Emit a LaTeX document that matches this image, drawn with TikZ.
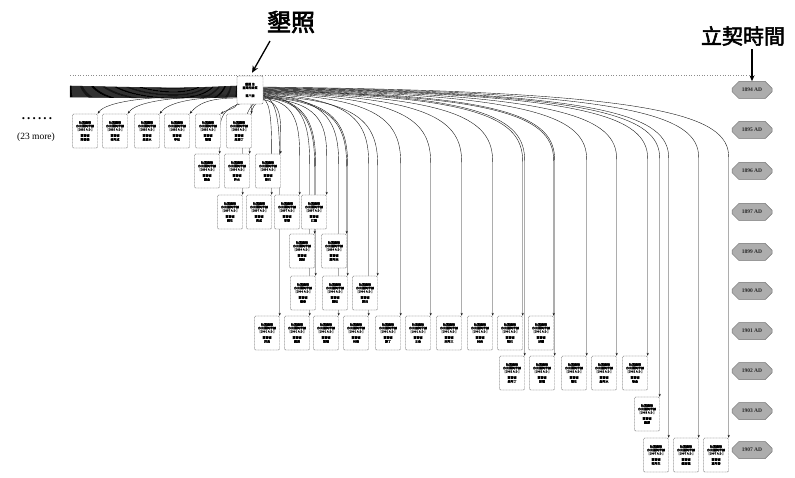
\documentclass[tikz,border=0pt]{standalone}
\usepackage{fontspec}
\setmainfont{Liberation Serif}
\newfontfamily\cjk[FakeBold=1.2]{Noto Sans CJK TC}
\newfontfamily\cjkb[FakeBold=2.5]{Noto Sans CJK TC}
\usetikzlibrary{shapes.misc,arrows.meta,calc}
\pgfdeclarelayer{background}
\pgfdeclarelayer{paper}
\pgfsetlayers{paper,background,main}
\newcommand\dd[2]{{\cjkb 杜賣盡根}\\ 水田園契字據\\ \relax{[}#1 A.D.{]}\\[2.6pt] {\cjkb 第壹號}\\[0.4pt] {\cjkb #2}}
\newcommand\linkR[2]{%
 \draw[edge] let \p1=([yshift=#1]root.east), \p2=(#2.north east),
  \n1={min(70,0.6*(\y1-\y2))} in
  (\p1) .. controls ({\x1+0.85*(\x2-\x1)},{\y1-0.06*\n1*1pt}) and (\x2,{\y1-0.4*\n1*1pt}) .. (\x2,{\y1-\n1*1pt}) -- (\p2);}
\newcommand\linkL[2]{%
 \draw[edge] let \p1=([yshift=#1]root.west), \p2=(#2.north east) in
  (\p1) .. controls ({\x1+0.6*(\x2-\x1)},\y1) and ({\x2+8pt},{\y1-6pt}) .. (\p2);}
\begin{document}
\begin{tikzpicture}[x=1pt,y=-1pt,
 deed/.style={draw=black!75, dash pattern=on 0.9pt off 0.6pt, line width=0.4pt,
   rounded corners=1.2pt, minimum width=25pt, minimum height=34pt, inner sep=0.5pt,
   align=center, font=\cjk\fontsize{3}{3.5}\selectfont, fill=white},
 year/.style={chamfered rectangle, chamfered rectangle xsep=5pt, chamfered rectangle ysep=4pt,
   draw=black!55, fill=black!32, line width=0.5pt, minimum width=40pt, minimum height=17pt,
   inner sep=1pt, font=\bfseries\fontsize{5.5}{5.5}\selectfont, text=black!85},
 edge/.style={draw=black!90, line width=0.4pt, -{Stealth[length=3pt,width=2.2pt]}},
 band/.style={draw=black, line width=0.55pt},
 title/.style={font=\cjkb\fontsize{24}{24}\selectfont},
 bigarrow/.style={draw=black, line width=1.3pt, -{Stealth[length=7pt,width=6pt]}}
]
\useasboundingbox (0,0) rectangle (795,478);
\begin{pgfonlayer}{paper}
\fill[white] (0,0) rectangle (795,478);
\end{pgfonlayer}

% titles
\node[title] (t1) at (291,22) {墾照};
\node[title, font=\cjkb\fontsize{21}{21}\selectfont] (t2) at (743,36) {立契時間};

% dotted rule
\coordinate (h1) at (70,75);
\coordinate (h2) at (748,75);
\draw[black!45, dotted, line width=0.6pt] (h1) -- (h2);

% time line
\foreach \yr/\yy in {1894/90,1895/130,1896/171,1897/212,1899/252,1900/291,1901/331,1902/371,1903/411,1907/450}
  \node[year] (y\yr) at (752,\yy) {\yr\ AD};

% root
\node[deed, minimum width=26pt, minimum height=28pt] (root) at (250,90)
  {{\cjkb 墾照 全}\\ 臺灣府給照\\[4.5pt] {\cjkb 第八號}};

% row A (1895)
\foreach \n/\x/\nm in {a1/85/陳番婆, a2/115/林阿成, a3/147/黃清水, a4/177/李旺, a5/208/張福, a6/239/吳添丁}
  \node[deed] (\n) at (\x,131) {\dd{1895}{\nm}};
% row B (1896)
\foreach \n/\x/\nm in {b1/207/劉金, b2/237/許水, b3/268/謝石}
  \node[deed] (\n) at (\x,171) {\dd{1896}{\nm}};
% row C (1897)
\foreach \n/\x/\nm in {c1/230/蔡生, c2/259/周成, c3/287/曾發, c4/314/江龍}
  \node[deed] (\n) at (\x,212) {\dd{1897}{\nm}};
% row D (1899)
\foreach \n/\x/\nm in {d1/302/葉財, d2/334/鄭阿來}
  \node[deed] (\n) at (\x,251) {\dd{1899}{\nm}};
% row E (1900)
\foreach \n/\x/\nm in {e1/303/楊春, e2/335/賴旺, e3/365/郭田}
  \node[deed] (\n) at (\x,293) {\dd{1900}{\nm}};
% row F (1901)
\foreach \n/\x/\nm in {f1/267/洪貴, f2/297/蘇清, f3/326/簡德, f4/356/何壽, f5/388/游丁, f6/418/王全, f7/449/宋阿三, f8/480/林來, f9/510/陳石, f10/541/邱順}
  \node[deed] (\n) at (\x,333) {\dd{1901}{\nm}};
% row G (1902)
\foreach \n/\x/\nm in {g1/512/黃阿丁, g2/542/彭福, g3/574/張生, g4/604/詹阿水, g5/635/徐金}
  \node[deed] (\n) at (\x,373) {\dd{1902}{\nm}};
% row H (1903)
\node[deed] (h1n) at (647,414) {\dd{1903}{羅源}};
% row I (1907)
\foreach \n/\x/\nm in {i1/656/范阿生, i2/686/鍾添福, i3/716/溫阿發}
  \node[deed] (\n) at (\x,455) {\dd{1907}{\nm}};

% side texts
\node[font=\bfseries\fontsize{13}{13}\selectfont] (dots) at (37,119) {.\,.\,.\,.\,.\,.};
\node[font=\fontsize{9.5}{10}\selectfont] (more) at (36,137) {(23 more)};

% arrows of the titles
\coordinate (t1a) at (270,41);
\draw[bigarrow] (t1a) -- ([xshift=2pt,yshift=3pt]root.north);
\draw[draw=black, line width=1.1pt, -{Stealth[length=6pt,width=5pt]}] (y1894.north |- t2.south) -- (y1894.north);

\begin{pgfonlayer}{background}
% left band (23 more)
\foreach \i in {1,...,23} {
  \coordinate (m\i) at (70,{85.5+0.5*\i});
  \draw[band] ([yshift={(4.5-0.5*\i)*1pt}]root.west) .. controls (180,{88+0.45*\i}) .. (m\i);
}
% row A edges
\linkL{-5pt}{a1}
\linkL{-6pt}{a2}
\linkL{-7pt}{a3}
\linkL{-8pt}{a4}
\draw[edge] (root.south west) .. controls ([yshift=-4pt]root.south west) and ([xshift=6pt,yshift=4pt]a5.north east) .. (a5.north east);
\draw[edge] ([xshift=1pt]root.south) -- (a6.north east);
% right edges
\foreach \t [count=\k] in {b1,b2,b3,c1,c2,c3,c4,d1,d2,e1,e2,e3,f1,f2,f3,f4,f5,f6,f7,f8,f9,f10,g1,g2,g3,g4,g5,h1n,i1,i2,i3}
  {\linkR{{(-11+0.45*\k)*1pt}}{\t}}
\end{pgfonlayer}
\end{tikzpicture}
\end{document}
